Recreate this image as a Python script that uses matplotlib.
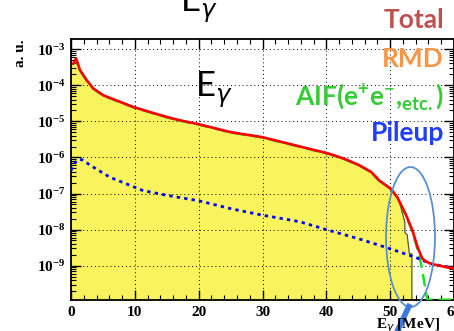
import numpy as np
import matplotlib
matplotlib.use("Agg")
import matplotlib.pyplot as plt
from matplotlib.patches import Ellipse
from matplotlib.lines import Line2D
from matplotlib.ticker import LogLocator, MultipleLocator, NullFormatter

# Total spectrum (red) as log10 values
total_x = [0.36, 0.8, 1.4, 2.45, 3.5, 5.05, 7.1, 9.7, 12.3, 15, 17, 20, 25, 30,
           35, 40.5, 43, 45.2, 47, 48.3, 50.1, 51.1, 52.4, 53.5, 54.3, 55.05, 56,
           57, 58, 59, 60]
total_log = [-3.4, -3.26, -3.58, -3.86, -4.09, -4.28, -4.42, -4.6, -4.74, -4.88,
             -4.97, -5.08, -5.3, -5.44, -5.66, -5.9, -6.05, -6.22, -6.4, -6.64,
             -6.87, -7.1, -7.56, -8.03, -8.49, -8.81, -8.92, -8.97, -9.01, -9.05,
             -9.08]

# RMD (yellow filled histogram)
rmd_x = [0, 0.36, 0.8, 1.4, 2.45, 3.5, 5.05, 7.1, 9.7, 12.3, 15, 17, 20, 25, 30,
         35, 40.5, 43, 45.2, 47, 48.3, 50.1, 50.8, 51.4, 52.0, 52.3, 52.3, 52.7,
         52.7, 53.0, 53.0, 53.4, 53.4]
rmd_log = [-3.4, -3.41, -3.27, -3.59, -3.87, -4.1, -4.29, -4.43, -4.61, -4.75,
           -4.89, -4.98, -5.09, -5.31, -5.45, -5.67, -5.91, -6.06, -6.23, -6.41,
           -6.65, -6.88, -7.02, -7.2, -7.6, -7.8, -8.08, -8.15, -8.2, -8.65,
           -8.67, -8.67, -11]

# AIF (green dashed)
aif_x = [0.36, 0.8, 1.4, 2.45, 3.5, 5.05, 7.1, 9.7, 12.3, 15, 17, 20, 25, 30,
         35, 40.5, 43, 45.2, 47, 48.3, 50.1, 51.1, 52.4, 53.5, 54.5, 55, 55.8, 60]
aif_log = [-3.41, -3.27, -3.59, -3.87, -4.1, -4.29, -4.43, -4.61, -4.75, -4.89,
           -4.98, -5.09, -5.31, -5.45, -5.67, -5.91, -6.06, -6.23, -6.41, -6.65,
           -6.88, -7.11, -7.58, -8.06, -8.68, -9.1, -9.94, -9.94]

# Pileup (blue dotted)
pileup_x = [0, 0.36, 0.9, 1.67, 3.5, 6.1, 11.3, 15, 20, 25, 30, 35.8, 40, 45,
            49.3, 54, 56.4, 58, 60]
pileup_log = [-6.36, -6.22, -6.08, -6.06, -6.27, -6.55, -6.92, -7.05, -7.2, -7.42,
              -7.6, -7.78, -8.0, -8.25, -8.49, -8.77, -8.95, -9.0, -9.07]

legend_labels = ["Total", "RMD",
                 r"AIF(e$^{\mathdefault{+}}$e$^{\mathdefault{-}}$,$_{\mathdefault{etc.}}$)",
                 "Pileup"]
legend_colors = ["#c0504d", "#f79646", "#33cc33", "#1f3cff"]

ymin, ymax = 10 ** -9.95, 10 ** -2.72

fig = plt.figure(figsize=(4.54, 3.31), dpi=100)
ax = fig.add_axes([71 / 454, 1 - 300 / 331, 1 - 71 / 454, (300 - 39) / 331])

ax.fill_between(rmd_x, 10 ** np.array(rmd_log), ymin, color="#f9f35e", lw=0, zorder=1)
ax.plot(rmd_x, 10 ** np.array(rmd_log), color="#5a5a30", lw=0.9, zorder=2)
ax.plot(aif_x, 10 ** np.array(aif_log), color="#22dd22", lw=1.8,
        ls=(0, (5, 2.5)), zorder=3)
ax.plot(pileup_x, 10 ** np.array(pileup_log), color="#0000ff", lw=2,
        ls=(0, (1.2, 1.5)), zorder=3)
ax.plot(total_x, 10 ** np.array(total_log), color="#ff0000", lw=1.9, zorder=4)

ax.set_yscale("log")
ax.set_xlim(0, 60)
ax.set_ylim(ymin, ymax)
ax.xaxis.set_major_locator(MultipleLocator(10))
ax.xaxis.set_minor_locator(MultipleLocator(2))
ax.yaxis.set_major_locator(LogLocator(base=10, numticks=20))
ax.yaxis.set_minor_locator(LogLocator(base=10, subs=np.arange(2, 10), numticks=20))
ax.yaxis.set_minor_formatter(NullFormatter())
ax.tick_params(which="both", direction="in", top=True, right=True)
ax.tick_params(which="major", length=7, width=1)
ax.tick_params(which="minor", length=3.5, width=0.8)
ax.tick_params(axis="both", labelsize=11, pad=4)
ax.grid(True, which="major", color="black", ls=(0, (1, 3)), lw=0.7)
for s in ax.spines.values():
    s.set_linewidth(1.3)
fig.canvas.draw()
for lbl in ax.get_xticklabels() + ax.get_yticklabels():
    lbl.set_fontfamily("Liberation Serif")
    lbl.set_fontweight("bold")

fig.text(20 / 454, 1 - 53 / 331, "a. u.", rotation=90, ha="center", va="center",
         family="Liberation Serif", weight="bold", fontsize=11)
fig.text(376 / 454, 1 - 326 / 331, r"E$_{\gamma}$ [MeV]", ha="left", va="center",
         family="Liberation Serif", weight="bold", fontsize=11)

# large labels
fig.text(195 / 454, 1 - 97 / 331, r"E$_{\gamma}$", family="Lato", fontsize=25,
         ha="left", va="baseline")
fig.text(180 / 454, 1 - 12 / 331, r"E$_{\gamma}$", family="Lato", fontsize=25,
         ha="left", va="baseline")

legend_baselines = [28, 67, 105, 141]
for lab, col, yb in zip(legend_labels, legend_colors, legend_baselines):
    fig.text(444 / 454, 1 - yb / 331, lab, color=col, family="Lato",
             weight="bold", fontsize=19, ha="right", va="baseline")

fig.add_artist(Ellipse((410.5 / 454, 1 - 237 / 331), 49 / 454, 140 / 331,
                       transform=fig.transFigure, fill=False, ec="#5b8fd0", lw=1.3))
fig.add_artist(Line2D([410 / 454, 395 / 454], [1 - 304 / 331, 1 - 336 / 331],
                      transform=fig.transFigure, color="#3c7ae0", lw=4,
                      solid_capstyle="butt"))

fig.savefig("out.png", dpi=100)
